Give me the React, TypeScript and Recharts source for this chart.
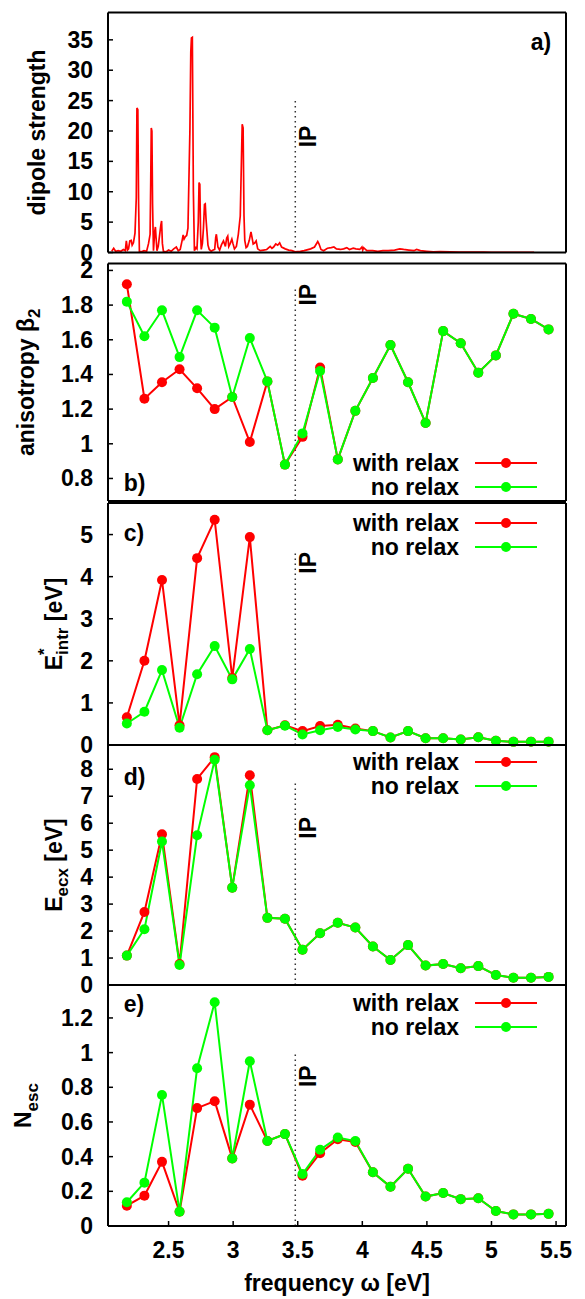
import React from "react"
import { Legend, Line, LineChart, ReferenceDot, ReferenceLine, XAxis, YAxis } from "recharts"

const FONT = '"Liberation Sans", Arial, Helvetica, sans-serif'
const RED = "#ff0000"
const GREEN = "#00ff00"

// photon frequency of the sampled runs [eV]
const omega = [
  2.177, 2.313, 2.449, 2.585, 2.721, 2.857, 2.993, 3.129, 3.265, 3.401, 3.537, 3.673, 3.81, 3.946, 4.082,
  4.218, 4.354, 4.49, 4.626, 4.762, 4.898, 5.034, 5.17, 5.306, 5.442,
]

// b) anisotropy beta_2
const betaRelax = [
  1.92, 1.26, 1.355, 1.43, 1.32, 1.2, 1.27, 1.01, 1.36, 0.88, 1.04, 1.44, 0.91, 1.19, 1.38, 1.57, 1.355, 1.12,
  1.65, 1.58, 1.41, 1.51, 1.75, 1.72, 1.66,
]
const betaNoRelax = [
  1.82, 1.62, 1.77, 1.5, 1.77, 1.67, 1.27, 1.61, 1.36, 0.88, 1.06, 1.42, 0.91, 1.19, 1.38, 1.57, 1.355, 1.12,
  1.65, 1.58, 1.41, 1.51, 1.75, 1.72, 1.66,
]

// c) intrinsic excitation energy [eV]
const eIntrRelax = [
  0.66, 2.0, 3.92, 0.47, 4.44, 5.35, 1.59, 4.94, 0.35, 0.47, 0.33, 0.45, 0.48, 0.39, 0.33, 0.18, 0.33, 0.16,
  0.16, 0.13, 0.185, 0.1, 0.075, 0.08, 0.08,
]
const eIntrNoRelax = [
  0.51, 0.79, 1.78, 0.41, 1.68, 2.35, 1.56, 2.28, 0.35, 0.46, 0.25, 0.35, 0.43, 0.37, 0.33, 0.18, 0.33, 0.16,
  0.16, 0.13, 0.185, 0.1, 0.075, 0.08, 0.08,
]

// d) excitation energy [eV]
const eEcxRelax = [
  1.09, 2.71, 5.59, 0.78, 7.64, 8.45, 3.61, 7.78, 2.49, 2.46, 1.31, 1.92, 2.31, 2.13, 1.43, 0.93, 1.48, 0.72,
  0.78, 0.62, 0.7, 0.37, 0.27, 0.27, 0.3,
]
const eEcxNoRelax = [
  1.09, 2.07, 5.32, 0.74, 5.55, 8.35, 3.61, 7.41, 2.49, 2.46, 1.31, 1.92, 2.31, 2.13, 1.43, 0.93, 1.48, 0.72,
  0.78, 0.62, 0.7, 0.37, 0.27, 0.27, 0.3,
]

// e) number of escaped electrons
const nEscRelax = [
  0.117, 0.175, 0.37, 0.082, 0.68, 0.72, 0.39, 0.7, 0.49, 0.53, 0.29, 0.42, 0.5, 0.485, 0.31, 0.226, 0.33, 0.17,
  0.19, 0.155, 0.16, 0.086, 0.067, 0.067, 0.07,
]
const nEscNoRelax = [
  0.137, 0.25, 0.756, 0.083, 0.91, 1.29, 0.39, 0.95, 0.49, 0.53, 0.3, 0.44, 0.51, 0.49, 0.31, 0.226, 0.33, 0.17,
  0.19, 0.155, 0.16, 0.086, 0.067, 0.067, 0.07,
]

// a) dipole strength, [omega, strength]
const spectrum = [
  [2.06, 0.2], [2.075, 0.7], [2.09, 0.2], [2.11, 0.3], [2.13, 0.2], [2.15, 0.5], [2.165, 0.3], [2.173, 1.9],
  [2.182, 0.4], [2.19, 0.6], [2.2, 1.9], [2.211, 2.0], [2.218, 1.2], [2.228, 1.6], [2.24, 3.2], [2.25, 9.0],
  [2.255, 23.8], [2.262, 23.5], [2.268, 8.0], [2.274, 0.2], [2.29, 0.1], [2.31, 0.3], [2.33, 0.2], [2.345, 1.5],
  [2.357, 3.0], [2.362, 12.0], [2.366, 20.5], [2.371, 20.0], [2.376, 8.0], [2.383, 0.3], [2.393, 3.5],
  [2.398, 4.2], [2.403, 2.5], [2.41, 0.3], [2.42, 1.0], [2.44, 4.5], [2.446, 5.2], [2.452, 1.5], [2.46, 0.2],
  [2.48, 0.1], [2.5, 0.4], [2.52, 0.2], [2.54, 0.6], [2.56, 0.9], [2.575, 0.3], [2.59, 0.5], [2.605, 2.0],
  [2.613, 2.9], [2.62, 2.2], [2.63, 2.6], [2.64, 2.8], [2.65, 4.0], [2.665, 20.0], [2.672, 33.0], [2.677, 35.3],
  [2.684, 35.4], [2.692, 10.0], [2.7, 0.3], [2.712, 0.8], [2.72, 0.6], [2.73, 5.0], [2.736, 11.5], [2.742, 11.2],
  [2.748, 3.0], [2.753, 0.5], [2.762, 1.5], [2.77, 4.0], [2.778, 7.9], [2.784, 8.0], [2.79, 5.5], [2.797, 3.5],
  [2.805, 1.2], [2.815, 0.5], [2.83, 0.2], [2.845, 0.4], [2.857, 0.5], [2.865, 2.5], [2.87, 3.0], [2.876, 2.0],
  [2.882, 0.9], [2.895, 0.4], [2.91, 1.3], [2.925, 1.9], [2.94, 1.0], [2.95, 2.4], [2.958, 2.7], [2.966, 1.0],
  [2.978, 1.5], [2.99, 2.2], [2.998, 1.5], [3.01, 0.6], [3.025, 1.0], [3.04, 3.0], [3.055, 6.0], [3.064, 15.0],
  [3.07, 21.1], [3.077, 20.5], [3.084, 6.0], [3.09, 2.0], [3.1, 0.8], [3.11, 1.0], [3.125, 2.0], [3.138, 3.4],
  [3.146, 2.5], [3.155, 1.4], [3.168, 1.6], [3.178, 1.9], [3.19, 0.6], [3.21, 0.3], [3.236, 0.4], [3.26, 0.5],
  [3.287, 1.0], [3.3, 0.7], [3.313, 0.9], [3.33, 1.4], [3.345, 1.2], [3.36, 1.6], [3.375, 0.9], [3.403, 0.6],
  [3.43, 0.4], [3.455, 0.3], [3.48, 0.1], [3.52, 0.2], [3.55, 0.3], [3.6, 0.6], [3.63, 0.9], [3.655, 1.8],
  [3.665, 1.4], [3.68, 0.5], [3.7, 0.3], [3.73, 0.7], [3.76, 0.8], [3.78, 0.9], [3.8, 0.6], [3.83, 0.5],
  [3.855, 0.6], [3.88, 0.8], [3.9, 0.5], [3.93, 0.7], [3.95, 0.6], [3.98, 0.5], [3.997, 0.9], [4.003, 0.4],
  [4.01, 0.8], [4.035, 0.3], [4.08, 0.3], [4.12, 0.2], [4.16, 0.3], [4.2, 0.3], [4.25, 0.4], [4.29, 0.6],
  [4.32, 0.5], [4.36, 0.4], [4.4, 0.3], [4.42, 0.5], [4.45, 0.3], [4.5, 0.2], [4.55, 0.1], [4.6, 0.15],
  [4.68, 0.1], [4.75, 0.08], [4.85, 0.06], [4.94, 0.05], [5.0, 0.03], [5.1, 0.02], [5.2, 0.02], [5.33, 0.01],
]

const X_DOMAIN = [2.031, 5.577]
const X_TICKS = [2.5, 3, 3.5, 4, 4.5, 5, 5.5]
const IP = 3.481
const LEGEND_ORDER = ["with relax", "no relax"]

const spectrumRows = spectrum.map(([w, s]) => ({ w, s }))
const pairRows = (a: number[], b: number[]) => omega.map((w, i) => ({ w, relax: a[i], noRelax: b[i] }))

const axisLine = { stroke: "#000", strokeWidth: 2 }
const tickLine = { stroke: "#000", strokeWidth: 1.5 }
const textStyle = { fontFamily: FONT, fontWeight: 700, fontSize: 23, fill: "#000" }

const yTickLabel = (p: any) => (
  <text x={p.x} y={p.y} textAnchor="end" dominantBaseline="central" style={textStyle}>
    {p.payload.value}
  </text>
)

const xTickLabel = (p: any) => (
  <text x={p.x} y={p.y} dy="0.71em" textAnchor="middle" style={textStyle}>
    {p.payload.value}
  </text>
)

const xTitle = (props: any) => {
  const vb = props.viewBox
  return (
    <text x={vb.x + vb.width / 2} y={vb.y + vb.height - 8} textAnchor="middle" style={textStyle}>
      frequency ω [eV]
    </text>
  )
}

const yTitle = (x: number, parts: React.ReactNode) => (props: any) => {
  const vb = props.viewBox || { y: 0, height: 0 }
  const cy = vb.y + vb.height / 2
  return (
    <text x={x} y={cy} transform={`rotate(-90 ${x} ${cy})`} textAnchor="middle" style={textStyle}>
      {parts}
    </text>
  )
}

const ipLabel = (props: any) => {
  const vb = props.viewBox
  const cx = vb.x + vb.width / 2
  const cy = vb.y + vb.height / 2
  return (
    <text x={cx} y={cy} transform={`rotate(-90 ${cx} ${cy})`} textAnchor="middle" dominantBaseline="central" style={textStyle}>
      IP
    </text>
  )
}

const panelTag = (tag: string, anchor: "start" | "end") => (props: any) => {
  const vb = props.viewBox
  return (
    <text x={vb.x + vb.width / 2} y={vb.y + vb.height / 2} textAnchor={anchor} dominantBaseline="central" style={textStyle}>
      {tag}
    </text>
  )
}

function LegendRows(props: any) {
  const items = [...(props.payload || [])].sort(
    (a: any, b: any) => LEGEND_ORDER.indexOf(a.value) - LEGEND_ORDER.indexOf(b.value)
  )
  return (
    <div style={{ fontFamily: FONT, fontWeight: 700, fontSize: 23, color: "#000" }}>
      {items.map((it: any) => (
        <div key={it.value} style={{ display: "flex", justifyContent: "flex-end", alignItems: "center", height: 24 }}>
          <span style={{ lineHeight: "24px", whiteSpace: "nowrap" }}>{it.value}</span>
          <svg width={62} height={24} style={{ marginLeft: 16, display: "block" }}>
            <line x1={0} y1={12} x2={62} y2={12} stroke={it.color} strokeWidth={2} />
            <circle cx={31} cy={12} r={5} fill={it.color} />
          </svg>
        </div>
      ))}
    </div>
  )
}

function frame(yDomain: number[], yTicks: number[], title: any, xLabels = false) {
  return [
    <XAxis
      key="xb"
      xAxisId="b"
      dataKey="w"
      type="number"
      domain={X_DOMAIN}
      ticks={X_TICKS}
      allowDataOverflow
      interval={0}
      height={xLabels ? 73 : 1}
      tickSize={-5}
      tickMargin={21}
      axisLine={axisLine}
      tickLine={tickLine}
      tick={xLabels ? xTickLabel : false}
      label={xLabels ? { content: xTitle } : undefined}
    />,
    <XAxis
      key="xt"
      xAxisId="t"
      orientation="top"
      dataKey="w"
      type="number"
      domain={X_DOMAIN}
      ticks={X_TICKS}
      allowDataOverflow
      interval={0}
      height={1}
      tickSize={-5}
      axisLine={axisLine}
      tickLine={tickLine}
      tick={false}
    />,
    <YAxis
      key="yl"
      yAxisId="l"
      type="number"
      domain={yDomain}
      ticks={yTicks}
      allowDataOverflow
      interval={0}
      width={108}
      tickSize={-5}
      tickMargin={20}
      axisLine={axisLine}
      tickLine={tickLine}
      tick={yTickLabel}
      label={{ content: title }}
    />,
    <YAxis
      key="yr"
      yAxisId="r"
      orientation="right"
      type="number"
      domain={yDomain}
      ticks={yTicks}
      allowDataOverflow
      interval={0}
      width={19}
      tickSize={-5}
      axisLine={axisLine}
      tickLine={tickLine}
      tick={false}
    />,
  ]
}

function marks(ipTop: number, ipBottom: number, ipText: number, tag: string, tagX: number, tagY: number, anchor: "start" | "end") {
  return [
    <ReferenceLine
      key="ip"
      xAxisId="b"
      yAxisId="l"
      segment={[{ x: IP, y: ipBottom }, { x: IP, y: ipTop }]}
      stroke="#333"
      strokeWidth={1.5}
      strokeDasharray="1.5 3.5"
    />,
    <ReferenceDot key="ipt" xAxisId="b" yAxisId="l" x={3.581} y={ipText} r={1} fill="none" stroke="none" label={{ content: ipLabel }} />,
    <ReferenceDot key="tag" xAxisId="b" yAxisId="l" x={tagX} y={tagY} r={1} fill="none" stroke="none" label={{ content: panelTag(tag, anchor) }} />,
  ]
}

function pair(legendTop: number) {
  return [
    <Line
      key="r"
      xAxisId="b"
      yAxisId="l"
      type="linear"
      dataKey="relax"
      name="with relax"
      stroke={RED}
      strokeWidth={2}
      dot={{ r: 5, fill: RED, stroke: RED, strokeWidth: 0, clipDot: false }}
      activeDot={false}
      isAnimationActive={false}
    />,
    <Line
      key="g"
      xAxisId="b"
      yAxisId="l"
      type="linear"
      dataKey="noRelax"
      name="no relax"
      stroke={GREEN}
      strokeWidth={2}
      dot={{ r: 5, fill: GREEN, stroke: GREEN, strokeWidth: 0, clipDot: false }}
      activeDot={false}
      isAnimationActive={false}
    />,
    <Legend
      key="lg"
      layout="horizontal"
      align="center"
      verticalAlign="middle"
      width={250}
      content={LegendRows}
      wrapperStyle={{ left: 287, top: legendTop, width: 250 }}
    />,
  ]
}

const titleA = yTitle(44.5, "dipole strength")
const titleB = yTitle(
  33.5,
  <>
    anisotropy β<tspan dy={6} fontSize={17}>2</tspan>
  </>
)
const titleC = yTitle(
  61.5,
  <>
    E<tspan dy={-12} fontSize={17}>*</tspan>
    <tspan dx={-6.6} dy={18} fontSize={17}>intr</tspan>
    <tspan dy={-6}> [eV]</tspan>
  </>
)
const titleD = yTitle(
  61.5,
  <>
    E<tspan dy={6} fontSize={17}>ecx</tspan>
    <tspan dy={-6}> [eV]</tspan>
  </>
)
const titleE = yTitle(
  31,
  <>
    N<tspan dy={7} fontSize={17}>esc</tspan>
  </>
)

const box = (top: number): React.CSSProperties => ({ position: "absolute", left: 0, top })

export default function App() {
  return (
    <div style={{ position: "absolute", left: 0, top: 0, width: 585, height: 1299 }}>
      <div style={box(0)}>
        <LineChart width={585} height={270} data={spectrumRows} margin={{ top: 11.5, right: 0, bottom: 16.5, left: 0 }}>
          {frame([0, 39.5], [0, 5, 10, 15, 20, 25, 30, 35], titleA)}
          {marks(25, 0, 19.1, "a)", 5.462, 34.7, "end")}
          <Line
            xAxisId="b"
            yAxisId="l"
            type="linear"
            dataKey="s"
            stroke={RED}
            strokeWidth={1.7}
            dot={false}
            activeDot={false}
            isAnimationActive={false}
          />
        </LineChart>
      </div>

      <div style={box(253)}>
        <LineChart width={585} height={265} data={pairRows(betaRelax, betaNoRelax)} margin={{ top: 9.5, right: 0, bottom: 16, left: 0 }}>
          {frame([0.67, 2.04], [0.8, 1, 1.2, 1.4, 1.6, 1.8, 2], titleB)}
          {marks(1.898, 0.67, 1.86, "b)", 2.152, 0.771, "start")}
          {pair(198.3)}
        </LineChart>
      </div>

      <div style={box(490)}>
        <LineChart width={585} height={270} data={pairRows(eIntrRelax, eIntrNoRelax)} margin={{ top: 12, right: 0, bottom: 14, left: 0 }}>
          {frame([0, 5.75], [0, 1, 2, 3, 4, 5], titleC)}
          {marks(4.63, 0, 4.33, "c)", 2.152, 5.03, "start")}
          {pair(21.3)}
        </LineChart>
      </div>

      <div style={box(730)}>
        <LineChart width={585} height={270} data={pairRows(eEcxRelax, eEcxNoRelax)} margin={{ top: 14, right: 0, bottom: 14, left: 0 }}>
          {frame([0, 8.9], [0, 1, 2, 3, 4, 5, 6, 7, 8], titleD)}
          {marks(7.48, 0, 5.83, "d)", 2.152, 7.73, "start")}
          {pair(19.7)}
        </LineChart>
      </div>

      <div style={box(970)}>
        <LineChart width={585} height={329} data={pairRows(nEscRelax, nEscNoRelax)} margin={{ top: 14, right: 0, bottom: 0, left: 0 }}>
          {frame([0, 1.39], [0, 0.2, 0.4, 0.6, 0.8, 1, 1.2], titleE, true)}
          {marks(1.004, 0, 0.864, "e)", 2.152, 1.283, "start")}
          {pair(20.7)}
        </LineChart>
      </div>
    </div>
  )
}
